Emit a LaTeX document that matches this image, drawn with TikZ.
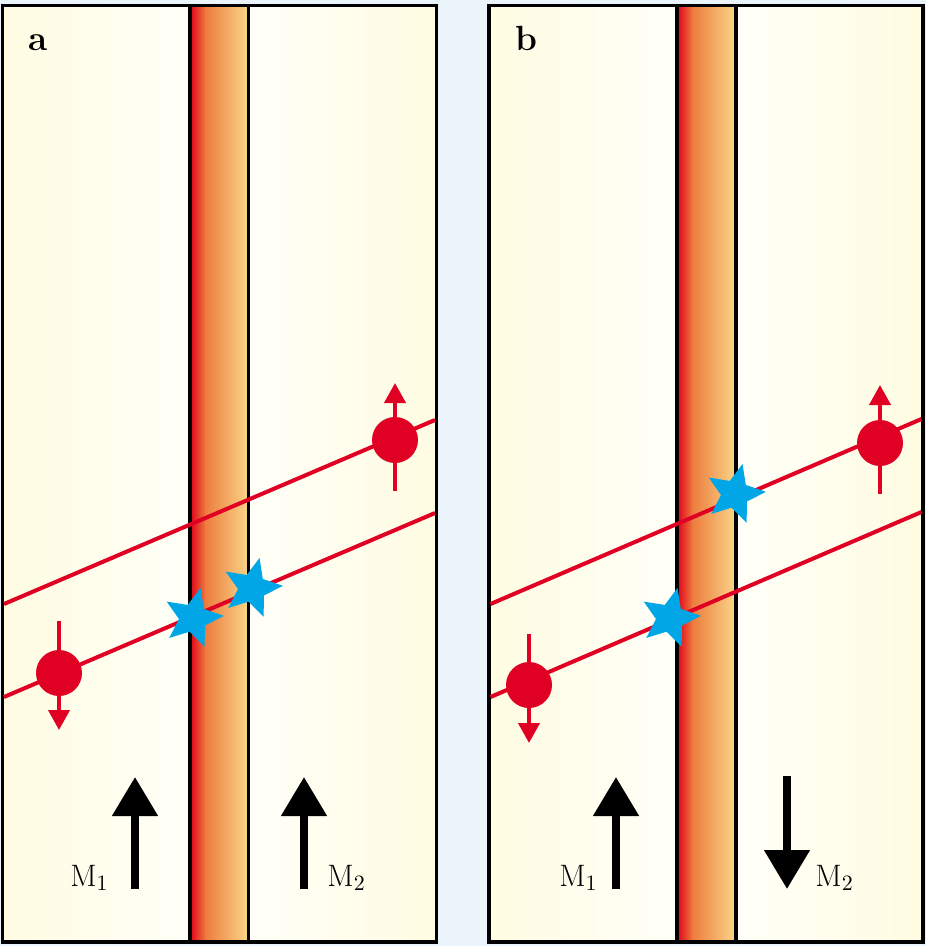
\documentclass[tikz,border=0pt]{standalone}
\usepackage{xcolor}
\usepackage{tikz}
\usetikzlibrary{arrows.meta,shapes.geometric,positioning}

\definecolor{pagebg}{RGB}{235,244,250}
\definecolor{cream}{RGB}{255,252,226}
\definecolor{palewhite}{RGB}{255,255,248}
\definecolor{barred}{RGB}{226,0,26}
\definecolor{barorange}{RGB}{237,125,62}
\definecolor{barlight}{RGB}{250,214,136}
\definecolor{spinred}{RGB}{224,0,36}
\definecolor{starblue}{RGB}{0,166,230}

\begin{document}
\begin{tikzpicture}[x=0.5pt,y=-0.5pt]
			\tikzstyle{electron}=[circle, fill=spinred, minimum size=23pt, inner sep=0pt]
			\tikzstyle{spin}=[color=spinred, line width=2pt, -{Triangle[length=10pt,width=10.5pt]}]
			\tikzstyle{band}=[draw=spinred, line width=2pt]
			\tikzstyle{defect}=[star, star points=5, star point ratio=2.2, fill=starblue,
			                    minimum size=31pt, inner sep=0pt, shape border rotate=-14]
			\tikzstyle{magnet}=[color=black, line width=4pt, -{Triangle[length=19.5pt,width=22pt]}]
			\tikzstyle{mlabel}=[inner sep=0pt, font=\fontsize{15.5}{18}\selectfont]
			\tikzstyle{plabel}=[inner sep=0pt, anchor=base west, font=\fontsize{17.5}{20}\selectfont\bfseries]
			\tikzstyle{frame}=[draw=black, line width=1.75pt]
			
			\useasboundingbox (0,0) rectangle (926,946);
			\fill[pagebg] (0,0) rectangle (926,946);
			
			% panel a
			\shade[left color=cream, right color=palewhite] (2.5,5.5) rectangle (190,942);
			\shade[left color=barred, right color=barorange] (190,5.5) rectangle (206,942);
			\shade[left color=barorange, right color=barlight] (205.5,5.5) rectangle (248.5,942);
			\shade[left color=palewhite, right color=cream] (248.5,5.5) rectangle (436.5,942);
			\draw[frame] (2.5,5.5) rectangle (436.5,942);
			\draw[frame] (190,5.5) -- (190,942) (248.5,5.5) -- (248.5,942);
			
			% panel b
			\shade[left color=cream, right color=palewhite] (489,5.5) rectangle (677,942);
			\shade[left color=barred, right color=barorange] (677,5.5) rectangle (693,942);
			\shade[left color=barorange, right color=barlight] (692.5,5.5) rectangle (736,942);
			\shade[left color=palewhite, right color=cream] (736,5.5) rectangle (923,942);
			\draw[frame] (489,5.5) rectangle (923,942);
			\draw[frame] (677,5.5) -- (677,942) (736,5.5) -- (736,942);
			
			\node[plabel] (la) at (28,51) {a};
			\node[plabel] (lb) at (515,51) {b};
			
			% bands
			\coordinate (au0) at (4,604);   \coordinate (au1) at (435,420);
			\coordinate (al0) at (4,697);   \coordinate (al1) at (435,513);
			\coordinate (bu0) at (490.5,604); \coordinate (bu1) at (921.5,419);
			\coordinate (bl0) at (490.5,697); \coordinate (bl1) at (921.5,512);
			\path[band] (au0) -- (au1) (al0) -- (al1) (bu0) -- (bu1) (bl0) -- (bl1);
			
			% spins
			\coordinate (sa1) at (59,621);  \coordinate (ta1) at (59,730);
			\coordinate (sa2) at (395,491); \coordinate (ta2) at (395,383);
			\coordinate (sb1) at (529,634); \coordinate (tb1) at (529,743);
			\coordinate (sb2) at (880,494); \coordinate (tb2) at (880,385);
			\draw[spin] (sa1) -- (ta1);
			\draw[spin] (sa2) -- (ta2);
			\draw[spin] (sb1) -- (tb1);
			\draw[spin] (sb2) -- (tb2);
			
			\node[electron] (ea1) at (59,673) {};
			\node[electron] (ea2) at (395,440) {};
			\node[electron] (eb1) at (529,685) {};
			\node[electron] (eb2) at (880,443) {};
			
			\node[defect] (da1) at (193,618) {};
			\node[defect] (da2) at (252,588) {};
			\node[defect] (db1) at (670,618) {};
			\node[defect] (db2) at (735,494) {};
			
			% magnetisations
			\coordinate (ma1) at (135,889); \coordinate (na1) at (135,777);
			\coordinate (ma2) at (304,889); \coordinate (na2) at (304,777);
			\coordinate (mb1) at (616,889); \coordinate (nb1) at (616,777);
			\coordinate (mb2) at (787,776); \coordinate (nb2) at (787,889);
			\draw[magnet] (ma1) -- (na1);
			\draw[magnet] (ma2) -- (na2);
			\draw[magnet] (mb1) -- (nb1);
			\draw[magnet] (mb2) -- (nb2);
			
			\node[mlabel, anchor=base east] (Ma1) at (109,886) {M$_1$};
			\node[mlabel, anchor=base west] (Ma2) at (327,886) {M$_2$};
			\node[mlabel, anchor=base east] (Mb1) at (598,886) {M$_1$};
			\node[mlabel, anchor=base west] (Mb2) at (815,886) {M$_2$};
\end{tikzpicture}
\end{document}
